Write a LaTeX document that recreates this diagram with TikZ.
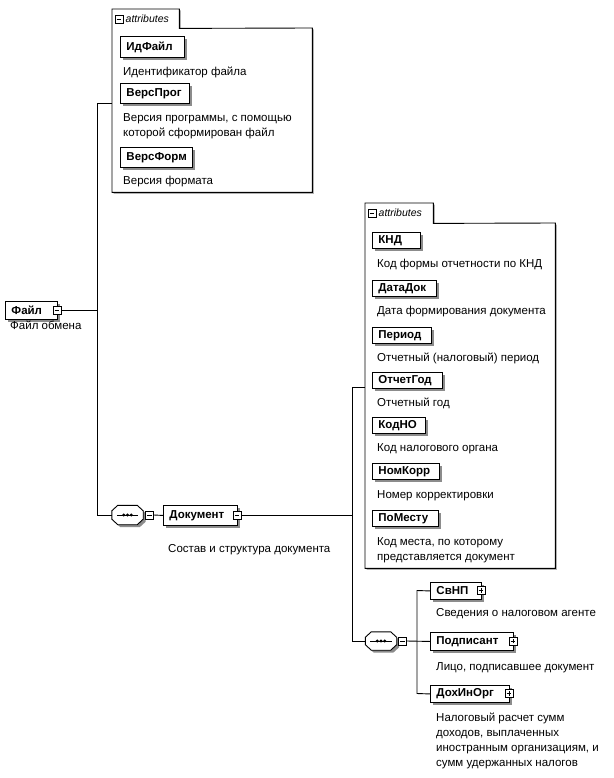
\documentclass[tikz,border=0pt]{standalone}
\usepackage{fontspec}
\setmainfont{Liberation Sans}
\usetikzlibrary{shadows}
\tikzset{
  shad/.style={drop shadow={shadow xshift=2.5pt, shadow yshift=-2.5pt, fill=black!45, opacity=1}},
  el/.style={draw, line width=0.9pt, fill=white, anchor=north west, inner xsep=6pt, inner ysep=0pt,
     font=\fontsize{11.5}{13}\selectfont\bfseries, align=left, shad},
  desc/.style={anchor=north west, inner sep=0pt, font=\fontsize{11.5}{15}\selectfont, align=left},
  expbox/.style={draw, line width=0.6pt, fill=white, minimum size=8pt, inner sep=0pt},
  minusbox/.style={expbox, path picture={\draw[line width=0.6pt] ([xshift=1.6pt]path picture bounding box.west) -- ([xshift=-1.6pt]path picture bounding box.east);}},
  plusbox/.style={expbox, path picture={\draw[line width=0.6pt] ([xshift=1.6pt]path picture bounding box.west) -- ([xshift=-1.6pt]path picture bounding box.east) ([yshift=1.6pt]path picture bounding box.south) -- ([yshift=-1.6pt]path picture bounding box.north);}},
  seqarea/.style={minimum width=31pt, minimum height=19pt, inner sep=0pt},
  seqline/.style={draw, line width=0.9pt, fill=white, shad},
  conn/.style={line width=0.9pt},
  outline/.style={draw, line width=0.9pt, fill=white, drop shadow={shadow xshift=1.5pt, shadow yshift=-1.5pt, fill=black!30, opacity=1}},
  tabtext/.style={anchor=west, inner sep=0pt, font=\fontsize{10.5}{12}\selectfont\itshape}
}
\newcommand\seqshape[1]{%
  \path[seqline] ([xshift=6pt]#1.north west) -- ([xshift=-6pt]#1.north east) -- ([yshift=-5.5pt]#1.north east)
     -- ([yshift=5.5pt]#1.south east) -- ([xshift=-6pt]#1.south east) -- ([xshift=6pt]#1.south west)
     -- ([yshift=5.5pt]#1.south west) -- ([yshift=-5.5pt]#1.north west) -- cycle;
  \draw[line width=0.9pt] ([xshift=5pt]#1.west) -- ([xshift=-5pt]#1.east);
  \fill (#1.center) circle (1.6pt) ([xshift=-3.8pt]#1.center) circle (1.6pt) ([xshift=3.8pt]#1.center) circle (1.6pt);}
\begin{document}
\begin{tikzpicture}[x=1pt,y=-1pt]
\useasboundingbox[fill=white] (0,0) rectangle (613,778);

% ---------- attributes box 1 ----------
\node[anchor=north west, minimum width=200pt, minimum height=164pt, inner sep=0pt] (a1) at (112,28) {};
\node[anchor=north west, minimum width=67pt, minimum height=19pt, inner sep=0pt] (t1) at (112,9) {};
\path[outline] (a1.south west) -- (t1.north west) -- (t1.north east) -- (t1.south east) -- (a1.north east) -- (a1.south east) -- cycle;
\node[minusbox, minimum size=8pt] (t1m) at (119,19) {};
\node[tabtext] (t1l) at (125.5,19) {attributes};

\node[el, minimum height=21pt, text width=52pt] (idf) at (120,36) {ИдФайл};
\node[desc] (idfd) at (123,66.5) {Идентификатор файла};
\node[el, minimum height=20pt, text width=57pt] (vprog) at (120,83) {ВерсПрог};
\node[desc] (vprogd) at (123,113.5) {Версия программы, с помощью\\которой сформирован файл};
\node[el, minimum height=20pt, text width=60pt] (vform) at (120,147) {ВерсФорм};
\node[desc] (vformd) at (123,175.5) {Версия формата};

% ---------- root ----------
\node[el, minimum height=18pt, text width=40pt] (fayl) at (5,301) {Файл};
\node[minusbox] (faylx) at (57,310) {};
\node[desc] (fayld) at (10,320.5) {Файл обмена};

% ---------- sequence 1 + Документ ----------
\node[seqarea] (seq1) at (127.5,515) {};
\seqshape{seq1}
\node[minusbox] (seq1x) at (149.5,515) {};
\node[el, minimum height=20pt, text width=62pt] (dok) at (163,505) {Документ};
\node[minusbox] (dokx) at (237,515) {};
\node[desc] (dokd) at (168,544.5) {Состав и структура документа};

% ---------- attributes box 2 ----------
\node[anchor=north west, minimum width=190pt, minimum height=345pt, inner sep=0pt] (a2) at (365,223) {};
\node[anchor=north west, minimum width=68pt, minimum height=20pt, inner sep=0pt] (t2) at (365,203) {};
\path[outline] (a2.south west) -- (t2.north west) -- (t2.north east) -- (t2.south east) -- (a2.north east) -- (a2.south east) -- cycle;
\node[minusbox, minimum size=8pt] (t2m) at (372,213) {};
\node[tabtext] (t2l) at (378.5,213) {attributes};

\node[el, minimum height=16pt, text width=36pt] (knd) at (372,232) {КНД};
\node[desc] (kndd) at (377,258.5) {Код формы отчетности по КНД};
\node[el, minimum height=16pt, text width=52pt] (datadok) at (372,280) {ДатаДок};
\node[desc] (datadokd) at (377,305.5) {Дата формирования документа};
\node[el, minimum height=16pt, text width=47pt] (period) at (372,327) {Период};
\node[desc] (periodd) at (377,352.5) {Отчетный (налоговый) период};
\node[el, minimum height=16pt, text width=58pt] (otchgod) at (372,372) {ОтчетГод};
\node[desc] (otchgodd) at (377,397.5) {Отчетный год};
\node[el, minimum height=16pt, text width=41pt] (kodno) at (372,417) {КодНО};
\node[desc] (kodnod) at (377,443.5) {Код налогового органа};
\node[el, minimum height=16pt, text width=55pt] (nomkorr) at (372,463) {НомКорр};
\node[desc] (nomkorrd) at (377,490.5) {Номер корректировки};
\node[el, minimum height=16pt, text width=54pt] (pomestu) at (372,510) {ПоМесту};
\node[desc] (pomestud) at (377,537.5) {Код места, по которому\\представляется документ};

% ---------- sequence 2 + children ----------
\node[seqarea, minimum height=18pt] (seq2) at (381,641) {};
\seqshape{seq2}
\node[minusbox] (seq2x) at (402.5,641) {};
\node[el, minimum height=17pt, text width=39pt] (svnp) at (430,582) {СвНП};
\node[plusbox] (svnpx) at (481,590.5) {};
\node[desc] (svnpd) at (436,608.5) {Сведения о налоговом агенте};
\node[el, minimum height=18pt, text width=71pt] (podp) at (430,632) {Подписант};
\node[plusbox] (podpx) at (513,641) {};
\node[desc] (podpd) at (436,662.5) {Лицо, подписавшее документ};
\node[el, minimum height=17pt, text width=67pt] (doh) at (430,685) {ДохИнОрг};
\node[plusbox] (dohx) at (509,693.5) {};
\node[desc] (dohd) at (436,712.5) {Налоговый расчет сумм\\доходов, выплаченных\\иностранным организациям, и\\сумм удержанных налогов};

% ---------- connectors ----------
\coordinate (jt) at (97,103);
\coordinate (jf) at (97,310);
\coordinate (jb) at (97,515);
\coordinate (ja) at (352,387);
\coordinate (jd) at (352,515);
\coordinate (jc) at (352,641);
\coordinate (bt) at (417,590.5);
\coordinate (bb) at (417,693.5);

\draw[conn] (faylx.east) -- (jf);
\draw[conn] (a1.west |- jt) -- (jt) -- (jb) -- (seq1.west);
\draw[conn] (seq1x.east) -- (dok.west);
\draw[conn] (dokx.east) -- (jd);
\draw[conn] (a2.west |- ja) -- (ja) -- (jc) -- (seq2.west);
\draw[conn] (seq2x.east) -- (podp.west);
\draw[conn] (svnp.west) -- (bt) -- (bb) -- (doh.west);
\end{tikzpicture}
\end{document}
